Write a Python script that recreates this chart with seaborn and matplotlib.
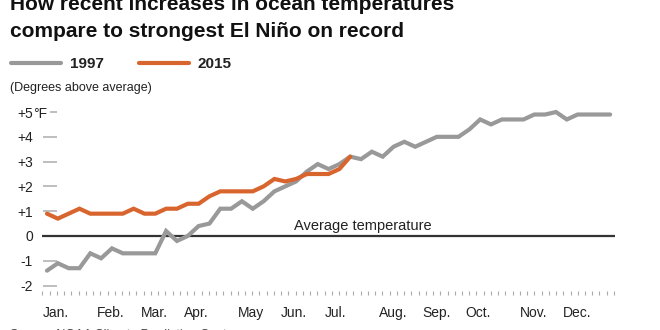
import numpy as np
import pandas as pd
import matplotlib
matplotlib.use("Agg")
import matplotlib.pyplot as plt
from matplotlib.lines import Line2D
import seaborn as sns

# Weekly sea-surface temperature anomalies (degrees F above average)
weeks = list(range(53))
anom_1997 = [-1.4, -1.1, -1.3, -1.3, -0.7, -0.9, -0.5, -0.7, -0.7, -0.7,
             -0.7, 0.2, -0.2, 0.0, 0.4, 0.5, 1.1, 1.1, 1.4, 1.1,
             1.4, 1.8, 2.0, 2.2, 2.6, 2.9, 2.7, 2.9, 3.2, 3.1,
             3.4, 3.2, 3.6, 3.8, 3.6, 3.8, 4.0, 4.0, 4.0, 4.3,
             4.7, 4.5, 4.7, 4.7, 4.7, 4.9, 4.9, 5.0, 4.7, 4.9,
             4.9, 4.9, 4.9]
anom_2015 = [0.9, 0.7, 0.9, 1.1, 0.9, 0.9, 0.9, 0.9, 1.1, 0.9,
             0.9, 1.1, 1.1, 1.3, 1.3, 1.6, 1.8, 1.8, 1.8, 1.8,
             2.0, 2.3, 2.2, 2.3, 2.5, 2.5, 2.5, 2.7, 3.2]

months = ["Jan.", "Feb.", "Mar.", "Apr.", "May", "Jun.",
          "Jul.", "Aug.", "Sep.", "Oct.", "Nov.", "Dec."]
month_start_week = [0, 5, 9, 13, 18, 22, 26, 31, 35, 39, 44, 48]

y_ticks = [-2, -1, 0, 1, 2, 3, 4, 5]
y_labels = ["-2", "-1", "0", "+1", "+2", "+3", "+4", "+5"]

GRAY = "#999999"
ORANGE = "#D9652E"

df = pd.concat([
    pd.DataFrame({"week": weeks, "anomaly": anom_1997, "year": "1997"}),
    pd.DataFrame({"week": weeks[:len(anom_2015)], "anomaly": anom_2015, "year": "2015"}),
])

sns.set_style("white")
plt.rcParams["font.family"] = ["Liberation Sans", "DejaVu Sans"]

W, H = 660, 330
fig = plt.figure(figsize=(W / 100, H / 100), dpi=100)

def px_box(left, top, right, bottom):
    return [left / W, 1 - bottom / H, (right - left) / W, (bottom - top) / H]

ax = fig.add_axes(px_box(42, 104.6, 615, 291))
ax.set_xlim(-0.46, 52.45)
ax.set_ylim(-2.22, 5.3)

# Short gray guide dashes at the left of each gridline
for v in y_ticks:
    if v == 0:
        continue
    x0 = 0.28 if v == 5 else -0.37
    ax.plot([x0, 0.92], [v, v], color="#b3b3b3", lw=1.2, zorder=1,
            solid_capstyle="butt")

ax.axhline(0, color="#333333", lw=1.6, zorder=2)

sns.lineplot(data=df, x="week", y="anomaly", hue="year",
             palette={"1997": GRAY, "2015": ORANGE}, lw=3.0,
             legend=False, ax=ax, zorder=3)
for ln in ax.lines:
    ln.set_solid_joinstyle("miter")

ax.text(22.8, 0.12, "Average temperature", fontsize=10.5, color="#222222",
        ha="left", va="bottom")

# Axes styling
for s in ax.spines.values():
    s.set_visible(False)
ax.set_xlabel("")
ax.set_ylabel("")

ax.set_yticks(y_ticks, y_labels)
ax.tick_params(axis="y", length=0, pad=6.5, labelsize=10, labelcolor="#222222")
ax.text(-1.28, 5, "°F", transform=ax.transData, fontsize=10, color="#222222",
        ha="left", va="center_baseline")

ax.set_xticks([w - 0.37 for w in month_start_week], months)
ax.set_xticks(np.linspace(-0.42, 52.35, 80), minor=True)
ax.tick_params(axis="x", which="major", length=0, pad=11, labelsize=10,
               labelcolor="#222222")
ax.tick_params(axis="x", which="minor", length=3, width=0.8, color="#aaaaaa",
               direction="out", bottom=True)
for lbl in ax.get_xticklabels():
    lbl.set_horizontalalignment("left")

# Title
fig.text(10 / W, 1 - 10 / H, "How recent increases in ocean temperatures",
         fontsize=15, fontweight="bold", color="#111111", va="baseline", ha="left")
fig.text(10 / W, 1 - 37 / H, "compare to strongest El Niño on record",
         fontsize=15, fontweight="bold", color="#111111", va="baseline", ha="left")

# Legend
for (x0, x1, col, tx, label) in [(11, 61, GRAY, 70, "1997"), (139, 189, ORANGE, 197, "2015")]:
    fig.add_artist(Line2D([x0 / W, x1 / W], [1 - 63 / H, 1 - 63 / H],
                          color=col, lw=3.0, transform=fig.transFigure))
    fig.text(tx / W, 1 - 64.5 / H, label, fontsize=11, fontweight="bold",
             color="#222222", va="center", ha="left")

fig.text(10 / W, 1 - 88 / H, "(Degrees above average)", fontsize=9,
         color="#222222", va="center", ha="left")

fig.text(10 / W, 1 - 335 / H, "Source: NOAA Climate Prediction Center",
         fontsize=9, color="#444444", va="center", ha="left")

fig.savefig("out.png", dpi=100)
